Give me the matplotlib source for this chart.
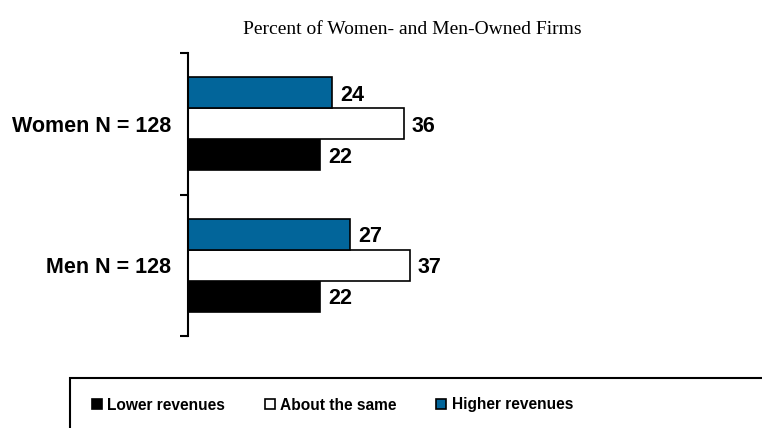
import numpy as np
import matplotlib.pyplot as plt
from matplotlib.lines import Line2D
from matplotlib.patches import Rectangle

groups = ["Men N = 128", "Women N = 128"]
lower = [22, 22]
same = [37, 36]
higher = [27, 24]
series_names = ["Lower revenues", "About the same", "Higher revenues"]
colors = ["black", "white", "#02659a"]

fig = plt.figure(figsize=(7.62, 4.28), dpi=100)
ax = fig.add_axes([188 / 762, 92 / 428, 450 / 762, 283 / 428])

y = np.arange(len(groups))
h = 0.22
for vals, off, c in zip([lower, same, higher], [-h, 0, h], colors):
    bars = ax.barh(y + off, vals, height=h, color=c, edgecolor="black", linewidth=1.2)
    for b, v in zip(bars, vals):
        ax.text(b.get_width() + 1.3, b.get_y() + b.get_height() / 2, str(v),
                va="center_baseline", ha="left", fontsize=15.5, fontweight="bold",
                family="Liberation Sans")

ax.set_xlim(0, 75)
ax.set_ylim(-0.5, 1.5)
for s in ["top", "right", "bottom"]:
    ax.spines[s].set_visible(False)
ax.spines["left"].set_linewidth(1.5)
ax.set_xticks([])
ax.set_yticks([-0.5, 0.5, 1.5])
ax.set_yticklabels([])
ax.tick_params(axis="y", which="major", length=6, width=1.5, direction="out")
ax.set_yticks(y, minor=True)
ax.set_yticklabels(groups, minor=True, fontsize=15.5, fontweight="bold",
                   family="Liberation Sans")
ax.tick_params(axis="y", which="minor", length=0, pad=12)

fig.text(412 / 762, 1 - 30 / 428, "Percent of Women- and Men-Owned Firms",
         ha="center", va="center", fontsize=14, family="Liberation Serif")

# legend box, runs off the right and bottom edges
fig.patches.append(Rectangle((70 / 762, -0.1), 1.0, (428 - 378) / 428 + 0.1,
                             transform=fig.transFigure, fill=False,
                             edgecolor="black", linewidth=1.5))

handles = [Line2D([], [], marker="s", linestyle="none", markersize=6.5,
                  markerfacecolor=c, markeredgecolor="black", markeredgewidth=1.2)
           for c in colors]
fig.legend(handles, series_names, ncol=3, frameon=False, loc="center left",
           bbox_to_anchor=(78 / 762, 1 - 405 / 428), handlelength=0.6,
           handletextpad=0.35, columnspacing=2.6,
           prop={"family": "Liberation Sans", "weight": "bold", "size": 11.2})

fig.savefig("out.png", dpi=100)
